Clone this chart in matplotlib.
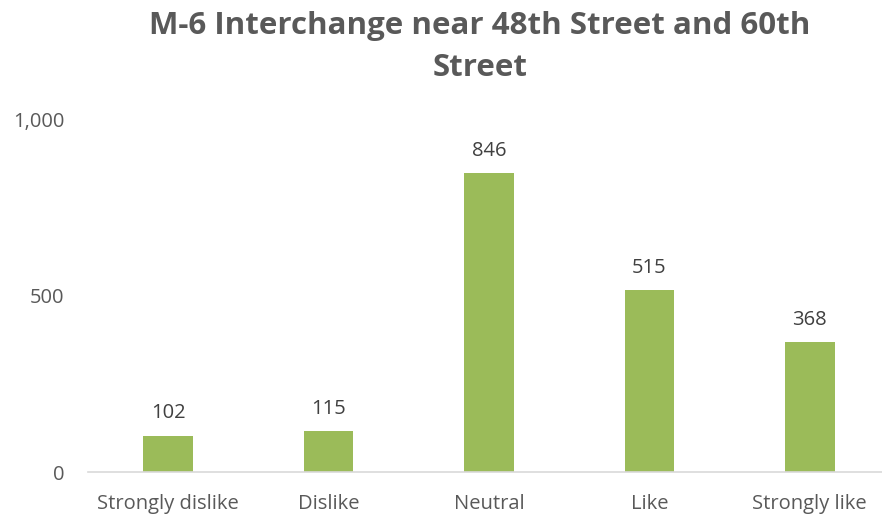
import matplotlib.pyplot as plt
from matplotlib.ticker import FuncFormatter

plt.rcParams['font.family'] = ['Open Sans', 'DejaVu Sans']

categories = ['Strongly dislike', 'Dislike', 'Neutral', 'Like', 'Strongly like']
counts = [102, 115, 846, 515, 368]
title = 'M-6 Interchange near 48th Street and 60th\nStreet'

fig = plt.figure(figsize=(8.82, 5.16), dpi=100)
ax = fig.add_axes([88 / 882, 44 / 516, 802 / 882, 353 / 516])

xs = range(len(categories))
bars = ax.bar(xs, counts, width=0.31, color='#9BBB59', zorder=2)

for b, v in zip(bars, counts):
    ax.annotate(str(v), (b.get_x() + b.get_width() / 2, v),
                xytext=(0, 9), textcoords='offset points',
                ha='center', va='bottom', fontsize=14.5, color='#404040')

ax.set_xlim(-0.5, len(categories) - 0.5)
ax.set_ylim(0, 1000)
ax.set_yticks([0, 500, 1000])
ax.yaxis.set_major_formatter(FuncFormatter(lambda v, p: f'{int(v):,}'))
ax.set_xticks(list(xs))
ax.set_xticklabels(categories)

for s in ['top', 'right', 'left']:
    ax.spines[s].set_visible(False)
ax.spines['bottom'].set_color('#D9D9D9')
ax.spines['bottom'].set_linewidth(1.2)
ax.tick_params(axis='both', length=0, labelsize=14.5, labelcolor='#595959')
ax.tick_params(axis='x', pad=16)
ax.tick_params(axis='y', pad=17)

fig.text(480 / 882, 1 - 47 / 516, title, ha='center', va='center',
         fontsize=22.5, fontweight='bold', color='#595959', linespacing=1.5)

fig.savefig('out.png', dpi=100)
